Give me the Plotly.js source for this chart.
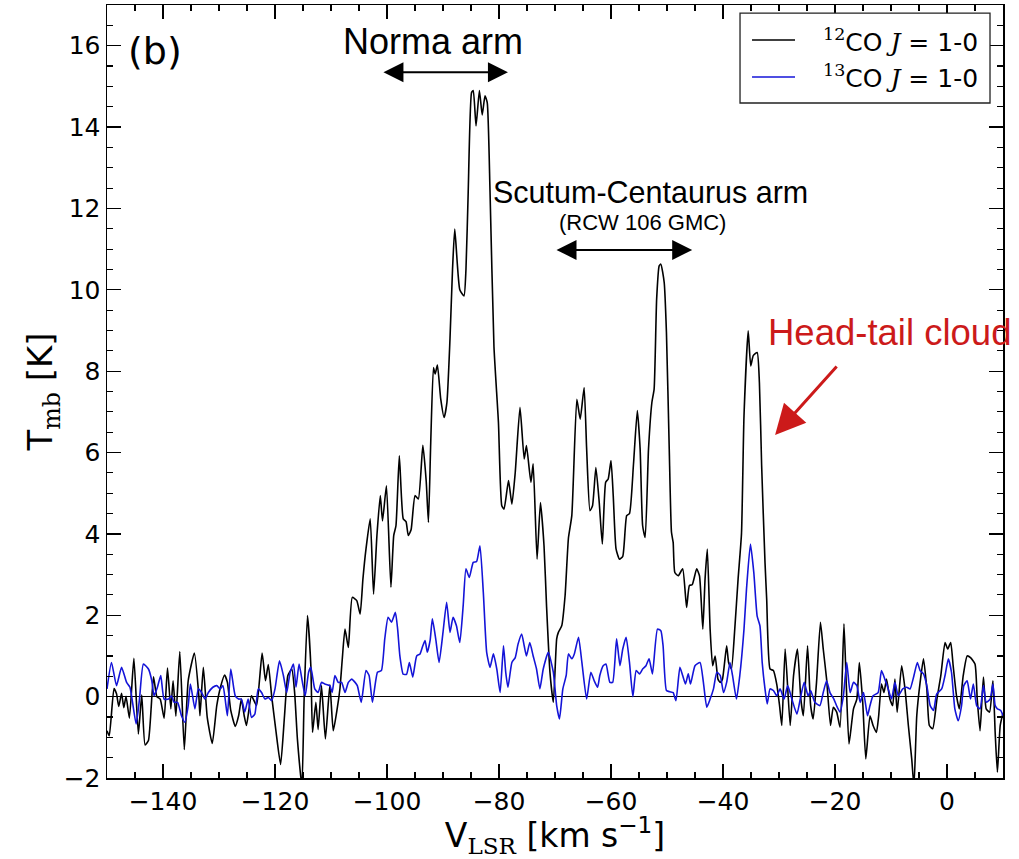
<!DOCTYPE html>
<html>
<head>
<meta charset="utf-8">
<script src="https://cdn.plot.ly/plotly-3.0.1.min.js"></script>
<style>html,body{margin:0;padding:0;background:#fff;}#chart{width:1019px;height:859px;}</style>
</head>
<body>
<div id="chart"></div>
<script>
// 12CO J=1-0 spectrum (velocity km/s, Tmb K)
const vel12 = [-150,-149.6,-148.75,-148.3,-147.9,-147.4,-147.0,-146.6,-146.0,-145.2,-144.4,-143.8,-143.2,-142.6,-141.7,-141.1,-140.5,-139.8,-139.2,-138.6,-138.2,-137.7,-137.0,-136.2,-135.5,-134.4,-133.6,-133.4,-132.8,-132.1,-131.2,-130.4,-129.7,-129.0,-128.5,-127.9,-127.1,-126.5,-126.0,-125.5,-125.1,-124.2,-123.3,-122.3,-121.7,-121.2,-120.6,-119.8,-119.0,-118.3,-117.7,-117.0,-116.5,-116.0,-115.2,-114.8,-114.2,-113.6,-113.3,-112.7,-112.3,-111.7,-111.0,-110.2,-109.6,-108.9,-108.4,-108.0,-107.5,-106.9,-106.2,-105.4,-104.8,-104.3,-103.75,-103.0,-102.4,-101.8,-101.2,-100.8,-100.1,-99.3,-98.8,-98.4,-97.8,-97.1,-96.6,-96.2,-95.7,-95.0,-94.4,-93.6,-93.0,-92.6,-92.2,-91.7,-91.4,-91.0,-90.4,-89.8,-89.3,-88.75,-88.3,-87.9,-87.0,-86.25,-85.9,-85.5,-84.9,-84.6,-84.1,-83.5,-83.0,-82.5,-82.1,-81.6,-80.9,-80.1,-79.5,-79.1,-78.3,-77.7,-77.1,-76.25,-75.5,-75.1,-74.3,-73.9,-73.2,-72.6,-71.96,-71.5,-70.9,-70.3,-69.7,-69.4,-68.8,-68.2,-67.6,-67.0,-66.1,-65.5,-64.8,-64.35,-63.75,-63.3,-62.7,-62.1,-61.55,-60.95,-60.5,-60.0,-59.6,-59.1,-58.5,-57.9,-57.2,-56.7,-56.0,-55.3,-54.8,-54.35,-53.9,-53.3,-52.7,-52.3,-51.85,-51.4,-51.1,-50.5,-50.1,-49.6,-49.2,-48.9,-48.6,-48.0,-47.2,-46.5,-46.0,-45.5,-44.7,-44.2,-43.6,-43.2,-42.8,-42.3,-41.85,-41.4,-40.9,-40.5,-40.1,-39.35,-39.0,-38.5,-37.9,-37.3,-36.7,-36.25,-35.5,-35.05,-34.6,-33.9,-33.5,-33.1,-32.5,-32.2,-31.6,-31.0,-30.4,-29.9,-29.5,-28.9,-28.0,-27.4,-26.7,-26.1,-25.65,-24.9,-24.35,-23.9,-23.3,-22.6,-22.1,-21.5,-20.8,-20.3,-19.7,-19.1,-18.4,-18.0,-17.5,-16.7,-16.1,-15.65,-15.05,-14.5,-13.75,-13.2,-12.6,-12.2,-11.7,-11.25,-10.8,-10.2,-9.7,-9.3,-8.9,-8.1,-7.5,-6.9,-6.3,-5.9,-5.4,-4.8,-4.2,-3.6,-3.15,-2.55,-1.8,-1.1,-0.35,0.12,0.66,1.1,1.7,2.2,2.9,3.6,4.2,5.0,5.4,5.9,6.5,7.0,7.6,8.2,8.6,9.0,9.5,10.0];
const tmb12 = [-0.84,-0.96,0.2,0.07,-0.24,0.08,-0.27,0.01,-0.53,0.94,-0.92,0.04,-1.19,-1.08,0.49,0,-0.06,-0.53,0.7,-0.3,0.39,-0.48,1.11,-1.3,0.39,1.07,0.02,-0.47,0.72,-0.51,-1.15,-0.22,0.25,0.53,0.35,-0.34,-0.73,-0.47,-0.06,-0.47,-0.71,0.02,-0.22,1.07,0.39,0.79,0.02,-0.88,-1.67,-0.47,0.52,0.68,0.11,-1.04,-2.2,-0.06,1.99,0.76,-0.88,-0.14,-0.81,0.27,-1.04,0.29,-0.84,-0.3,0.2,0.9,1.66,1.21,2.44,2.36,2.03,2.89,3.63,4.37,2.52,3.96,4.94,4.32,5.18,2.69,3.96,4.2,5.92,4.37,4.3,3.96,4.1,4.94,4.86,6.18,5.3,4.28,6.2,8.09,7.93,8.15,7.31,6.86,7.23,8.8,10.5,11.49,10.0,9.85,10.5,12.4,14.85,14.9,14.03,14.9,14.3,14.77,14.6,12.4,8.6,6.74,4.69,4.61,5.31,4.73,5.51,7.11,5.84,6.17,5.27,5.72,3.38,4.77,3.71,2.2,0.6,-0.14,1.42,1.58,1.74,2.48,3.9,4.45,7.31,6.82,7.6,6.09,4.57,4.69,5.63,4.77,3.75,5.27,5.35,5.8,4.94,3.63,3.38,3.45,4.45,4.5,5.68,7.03,6.09,4.2,3.91,6.09,7.23,7.56,9.77,10.59,10.63,10.18,8.95,6.09,4.04,3.79,3.05,2.97,3.14,2.19,2.73,2.75,3.14,2.97,1.66,2.9,3.63,1.66,0.76,1.0,0.43,0.35,0.43,1.25,0.84,0.68,1.66,2.9,4.0,6.9,8.99,8.13,8.38,8.46,7.72,5.68,3.3,2.4,0.68,0.64,0.3,-0.22,-0.71,1.17,-0.71,0.52,1.17,-0.06,-0.47,1.25,-0.22,-0.55,0.35,1.83,1.17,0.43,-0.71,-0.26,-0.38,-0.75,1.79,0.35,-1.16,-0.3,-0.06,0.84,-0.14,-1.53,-0.47,-0.71,-0.88,-0.47,0.31,0.1,0.43,-0.06,-0.22,0.43,-0.38,0.76,0.19,-0.71,-1.53,-2.2,-0.47,0.35,0.93,0.19,-0.71,-0.79,-0.06,0.52,1.33,1.17,1.33,0.76,0.02,-0.3,0.52,1.0,0.96,0.8,-0.06,-0.84,0.48,-0.3,-0.38,0.39,-0.88,-1.86,-0.71,-0.4];

// 13CO J=1-0 spectrum
const vel13 = [-150,-149.2,-148.3,-147.4,-146.5,-145.9,-144.8,-144.2,-143.5,-142.6,-142.0,-141.6,-141.0,-140.4,-139.8,-139.0,-138.5,-138.0,-137.4,-136.7,-136.1,-135.5,-135.1,-134.3,-133.7,-133.1,-132.5,-131.9,-131.1,-130.4,-129.8,-129.3,-128.9,-128.5,-127.9,-127.1,-126.5,-126.0,-125.4,-124.8,-124.2,-123.6,-123.0,-122.4,-121.8,-121.2,-120.6,-120.0,-119.2,-118.5,-117.9,-117.3,-116.7,-116.25,-115.7,-115.1,-114.6,-114.0,-113.6,-112.9,-112.3,-111.7,-111.1,-110.2,-109.8,-109.3,-108.7,-108.1,-107.5,-106.9,-106.3,-105.7,-105.3,-104.6,-103.75,-103.2,-102.6,-101.7,-101.0,-100.4,-99.8,-99.2,-98.5,-98.1,-97.7,-97.1,-96.5,-96.0,-95.4,-94.7,-94.1,-93.6,-93.2,-92.8,-92.3,-91.9,-91.3,-90.7,-90.0,-89.35,-88.75,-88.2,-87.6,-87.0,-86.4,-85.9,-85.3,-84.6,-84.0,-83.4,-82.8,-82.2,-81.6,-81.0,-80.4,-79.8,-79.2,-78.8,-78.4,-77.7,-77.1,-76.6,-75.95,-75.5,-75.1,-74.5,-73.9,-73.3,-72.7,-72.1,-71.2,-70.3,-69.7,-69.2,-68.6,-68.0,-67.6,-67.0,-66.55,-65.8,-65.2,-64.35,-63.6,-63.0,-62.4,-62.0,-61.4,-60.9,-60.2,-59.7,-59.0,-58.4,-57.9,-57.3,-56.7,-56.1,-55.5,-54.9,-54.35,-53.75,-53.2,-52.6,-51.7,-51.1,-50.7,-50.1,-49.5,-48.9,-48.4,-47.7,-47.2,-46.7,-46.2,-45.8,-45.0,-44.1,-43.5,-42.9,-42.3,-41.7,-41.1,-40.5,-39.9,-39.35,-38.75,-38.3,-37.6,-37.0,-36.25,-35.8,-35.1,-34.5,-33.9,-33.4,-33.0,-32.5,-32.1,-31.6,-31.0,-30.4,-29.8,-29.1,-28.45,-27.7,-26.8,-26.1,-25.5,-24.8,-24.35,-23.6,-22.7,-22.1,-21.5,-20.9,-20.2,-19.6,-19.1,-18.5,-17.9,-17.3,-16.7,-16.1,-15.5,-14.9,-14.2,-13.75,-13.2,-12.3,-11.7,-11.1,-10.5,-9.9,-9.3,-8.7,-7.9,-7.2,-6.6,-5.9,-5.3,-4.8,-4.2,-3.6,-3.0,-2.4,-1.85,-0.95,-0.35,0.24,0.8,1.4,2.0,2.6,3.0,3.6,4.2,4.7,5.3,5.9,6.5,7.0,7.7,8.2,8.6,9.0,9.6,10.0];
const tmb13 = [0.19,0.84,0.27,0.72,0.35,0.23,-0.67,-0.06,0.8,0.68,0.39,0.02,0.23,0.52,-0.06,-0.06,0.02,-0.14,-0.14,-0.47,-0.63,-0.22,0.31,-0.3,0.19,0.1,-0.06,0.1,0.23,0.27,0.19,0.27,-0.06,-0.47,0.68,0.02,-0.06,-0.06,-0.38,-0.06,-0.51,-0.43,0.19,0.1,-0.06,-0.02,-0.1,0.19,0.88,0.52,0.1,0.6,0.8,0.23,0.8,0.35,0.02,0.6,0.72,0.19,0.1,0.35,0.31,0.27,0.1,0.52,0.35,0.35,0.1,0.35,0.43,0.35,0.27,-0.14,0.64,0.52,-0.14,0.6,0.64,1.42,1.95,1.83,2.07,1.66,1.0,0.55,0.55,0.84,0.48,1.0,1.05,1.25,1.38,1.09,1.38,1.91,1.42,0.84,1.58,2.32,1.58,1.95,1.74,1.33,2.23,3.14,2.93,3.3,3.32,3.71,2.56,1.09,0.72,1.05,0.68,0.1,1.25,0.6,0.23,0.84,0.96,1.29,1.54,1.25,1.0,1.33,1.0,0.68,0.19,0.68,1.09,0.6,-0.22,-0.55,0.19,0.52,1.05,0.93,1.05,1.46,0.84,-0.06,0.6,0.39,0.23,0.52,0.76,0.8,0.35,0.35,1.42,0.76,1.17,1.46,0.84,0,0.64,0.56,0.68,0.76,0.93,0.56,1.66,1.62,1.25,0.15,0.12,0.1,-0.1,0.72,0.52,0.31,0.56,0.31,0.76,0.84,0.35,-0.26,-0.06,0.19,0.6,0.52,0.1,0.35,0.84,0.52,-0.06,0.52,1.66,2.65,3.75,3.05,1.98,1.74,0.84,0.19,-0.18,0.19,0.15,0.02,0.19,-0.06,0.27,-0.06,-0.43,0.02,0.35,0.02,0.15,-0.14,-0.22,0.1,0.39,0.1,-0.06,-0.26,-0.38,0.02,0.84,0.1,0.35,0.27,-0.14,0.1,-0.47,-0.22,0.02,0.1,0.64,0.43,0.19,-0.06,0.35,0.02,0.19,0.23,0.19,0.52,0.84,0.64,0.56,0.27,-0.22,-0.34,0.06,0.19,0.52,0.93,0.6,-0.3,-0.59,-0.22,0.27,0.39,-0.06,0.31,-0.22,-0.3,0.27,-0.14,-0.06,0.31,-0.22,-0.3,-0.34,-0.47];

const serifSpan = t => '<span style="font-family:DejaVu Serif">' + t + '</span>';
const seriesNames = [
  '<sup>' + serifSpan('12') + '</sup>CO <i>' + serifSpan('J') + '</i> = 1-0',
  '<sup>' + serifSpan('13') + '</sup>CO <i>' + serifSpan('J') + '</i> = 1-0'
];
const seriesColors = ['#000000', '#1414d8'];
const xTicks = [-140,-120,-100,-80,-60,-40,-20,0];
const yTicks = [-2,0,2,4,6,8,10,12,14,16];

const traces = [
  {x: vel12, y: tmb12, name: seriesNames[0], type: 'scatter', mode: 'lines', showlegend: false,
   line: {color: seriesColors[0], width: 1.6, shape: 'spline', smoothing: 0.5}},
  {x: vel13, y: tmb13, name: seriesNames[1], type: 'scatter', mode: 'lines', showlegend: false,
   line: {color: seriesColors[1], width: 1.6, shape: 'spline', smoothing: 0.5}}
];

const sans = 'DejaVu Sans, sans-serif';
const arial = 'Liberation Sans, Arial, sans-serif';
const axisCommon = {
  showline: true, linecolor: '#000', linewidth: 1.5, mirror: 'allticks',
  ticks: 'inside', ticklen: 14, tickwidth: 1.3, tickcolor: '#000',
  showgrid: false, tickfont: {family: sans, size: 25, color: '#000'},
};

// legend drawn in paper coordinates
const legBox = {x0: 0.7065, x1: 0.9855, y0: 0.8732, y1: 0.9896};
const legRows = [0.9547, 0.9069];
const shapes = [
  {type: 'rect', xref: 'paper', yref: 'paper', x0: legBox.x0, x1: legBox.x1, y0: legBox.y0, y1: legBox.y1,
   line: {color: '#222', width: 1.3}, fillcolor: '#fff', layer: 'above'}
];
const legendAnn = [];
legRows.forEach((yy, i) => {
  shapes.push({type: 'line', xref: 'paper', yref: 'paper', x0: 0.7199, x1: 0.7679, y0: yy, y1: yy,
    line: {color: seriesColors[i], width: 1.6}, layer: 'above'});
  legendAnn.push({xref: 'paper', yref: 'paper', x: 0.797, y: yy, xanchor: 'left', yanchor: 'middle',
    text: seriesNames[i], showarrow: false, font: {family: sans, size: 25, color: '#000'}});
});

const layout = {
  width: 1019, height: 859,
  margin: {l: 107, r: 16, t: 5, b: 81},
  paper_bgcolor: '#fff', plot_bgcolor: '#fff',
  showlegend: false,
  xaxis: Object.assign({}, axisCommon, {
    range: [-150, 10], tickvals: xTicks, zeroline: false,
    minor: {dtick: 5, tick0: 0, ticklen: 6, tickwidth: 1.1, tickcolor: '#000', ticks: 'inside'},
    title: {text: 'V<sub>' + serifSpan('LSR') + '</sub> [km s<sup>\u22121</sup>]',
            font: {family: sans, size: 33, color: '#000'}, standoff: 12}
  }),
  yaxis: Object.assign({}, axisCommon, {
    range: [-2, 17], tickvals: yTicks, zeroline: true, zerolinecolor: '#000', zerolinewidth: 1.5,
    minor: {dtick: 0.5, tick0: 0, ticklen: 6, tickwidth: 1.1, tickcolor: '#000', ticks: 'inside'},
    title: {text: 'T<sub>' + serifSpan('mb') + '</sub> [K]',
            font: {family: sans, size: 34, color: '#000'}, standoff: 0}
  }),
  shapes: shapes,
  annotations: [
    {x: -141.4, y: 15.87, xref: 'x', yref: 'y', text: '(b)', showarrow: false,
     font: {family: sans, size: 38, color: '#000'}},
    {x: -91.8, y: 16.1, xref: 'x', yref: 'y', text: 'Norma arm', showarrow: false,
     font: {family: arial, size: 36, color: '#000'}},
    {x: -78.4, y: 15.35, ax: -100.9, ay: 15.35, xref: 'x', yref: 'y', axref: 'x', ayref: 'y',
     text: '', showarrow: true, arrowside: 'end+start', arrowhead: 2, arrowsize: 2, arrowwidth: 2, arrowcolor: '#000'},
    {x: -53.0, y: 12.4, xref: 'x', yref: 'y', text: 'Scutum-Centaurus arm', showarrow: false,
     font: {family: arial, size: 30.5, color: '#000'}},
    {x: -54.3, y: 11.66, xref: 'x', yref: 'y', text: '(RCW 106 GMC)', showarrow: false,
     font: {family: arial, size: 22, color: '#000'}},
    {x: -45.5, y: 10.98, ax: -70.0, ay: 10.98, xref: 'x', yref: 'y', axref: 'x', ayref: 'y',
     text: '', showarrow: true, arrowside: 'end+start', arrowhead: 2, arrowsize: 2, arrowwidth: 2, arrowcolor: '#000'},
    {x: -10.2, y: 8.96, xref: 'x', yref: 'y', text: 'Head-tail cloud', showarrow: false,
     font: {family: arial, size: 36.5, color: '#cc1a1a'}},
    {x: -30.7, y: 6.43, ax: -19.46, ay: 8.15, xref: 'x', yref: 'y', axref: 'x', ayref: 'y',
     text: '', showarrow: true, arrowhead: 2, arrowsize: 2, arrowwidth: 3, arrowcolor: '#cc1a1a'}
  ].concat(legendAnn)
};

Plotly.newPlot('chart', traces, layout, {displayModeBar: false, staticPlot: true});
</script>
</body>
</html>
